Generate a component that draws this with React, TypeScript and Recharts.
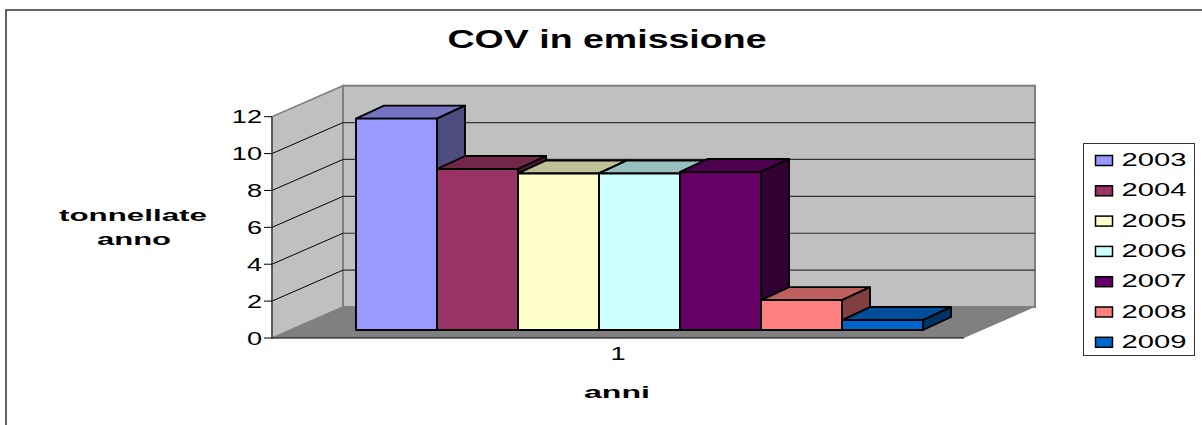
import React from 'react';
import { BarChart, Bar, XAxis, YAxis, CartesianGrid, Legend } from 'recharts';

const years = ['2003', '2004', '2005', '2006', '2007', '2008', '2009'];
const values = [11.46, 8.73, 8.49, 8.49, 8.57, 1.62, 0.54];
const colors = ['#9999FF', '#993366', '#FFFFCC', '#CCFFFF', '#660066', '#FF8080', '#0066CC'];
const topColors = ['#7373BF', '#732648', '#BFBF99', '#99BFBF', '#4D004D', '#BF6060', '#004D99'];
const sideColors = ['#4D4D80', '#4D1A33', '#808066', '#668080', '#330033', '#804040', '#003366'];
const yTicks = [0, 2, 4, 6, 8, 10, 12];
const categories = ['1'];

const chartData = categories.map((name) => {
  const row: Record<string, any> = { name };
  years.forEach((y, i) => {
    row[y] = values[i];
  });
  return row;
});

// plot area and the fake 3d depth
const LEFT = 272;
const RIGHT = 964;
const TOP = 116.7;
const BOTTOM = 338;
const DEPTH_X = 71;
const DEPTH_Y = 31;
const BAR_SHIFT_X = 23;
const BAR_SHIFT_Y = 8;
const BAR_DEPTH_X = 28;
const BAR_DEPTH_Y = 13;

const font = '"Liberation Sans", Arial, sans-serif';

function Bar3D(props: any) {
  const { x, y, width, height, index } = props;
  const i = props.colorIndex ?? index;
  const fx = x + BAR_SHIFT_X;
  const fy = y - BAR_SHIFT_Y;
  const line = { stroke: '#000', strokeWidth: 1.9, strokeLinejoin: 'round' as const };
  return (
    <g>
      <polygon
        points={`${fx},${fy} ${fx + BAR_DEPTH_X},${fy - BAR_DEPTH_Y} ${fx + width + BAR_DEPTH_X},${fy - BAR_DEPTH_Y} ${fx + width},${fy}`}
        fill={topColors[i]}
        {...line}
      />
      <polygon
        points={`${fx + width},${fy} ${fx + width + BAR_DEPTH_X},${fy - BAR_DEPTH_Y} ${fx + width + BAR_DEPTH_X},${fy + height - BAR_DEPTH_Y} ${fx + width},${fy + height}`}
        fill={sideColors[i]}
        {...line}
      />
      <rect x={fx} y={fy} width={width} height={height} fill={colors[i]} {...line} />
    </g>
  );
}

function Walls() {
  const bx = LEFT + DEPTH_X;
  const by = BOTTOM - DEPTH_Y;
  const ty = TOP - DEPTH_Y;
  return (
    <g>
      <polygon points={`${LEFT},${TOP} ${bx},${ty} ${bx},${by} ${LEFT},${BOTTOM}`} fill="#C0C0C0" stroke="#808080" strokeWidth={1.5} />
      <rect x={bx} y={ty} width={RIGHT - LEFT} height={by - ty} fill="#C0C0C0" stroke="#808080" strokeWidth={2} />
      <polygon points={`${LEFT},${BOTTOM} ${RIGHT},${BOTTOM} ${RIGHT + DEPTH_X},${by} ${bx},${by}`} fill="#808080" />
    </g>
  );
}

// the walls go in with the first grid line so the other lines stay on top of them
function GridLine(props: any) {
  const { x1, x2, y1, index } = props;
  const backY = y1 - DEPTH_Y;
  const isEdge = Math.abs(y1 - TOP) < 1 || Math.abs(y1 - BOTTOM) < 1;
  return (
    <g key={props.key}>
      {index === 0 && <Walls />}
      {!isEdge && (
        <>
          <line x1={x1} y1={y1} x2={x1 + DEPTH_X} y2={backY} stroke="#000" strokeWidth={1} />
          <line x1={x1 + DEPTH_X} y1={backY} x2={x2 + DEPTH_X} y2={backY} stroke="#333" strokeWidth={1.2} />
        </>
      )}
    </g>
  );
}

function YTick(props: any) {
  const { x, y, payload } = props;
  const s = String(payload.value);
  return (
    <text x={x} y={y + 6.5} textAnchor="end" fontFamily={font} fontSize={19} fill="#000" textLength={15.1 * s.length} lengthAdjust="spacingAndGlyphs">
      {s}
    </text>
  );
}

function XTick(props: any) {
  const { x, y, payload } = props;
  return (
    <text x={x} y={y + 8} textAnchor="middle" fontFamily={font} fontSize={19} fill="#000" textLength={15.1} lengthAdjust="spacingAndGlyphs">
      {payload.value}
    </text>
  );
}

function LegendBox() {
  return (
    <svg width={112} height={213} style={{ display: 'block' }}>
      <rect x={0.5} y={0.5} width={111} height={212} fill="#fff" stroke="#333" />
      {years.map((y, i) => {
        const cy = 16 + i * 30.3;
        return (
          <g key={y}>
            <rect x={12.5} y={cy - 3.5} width={17} height={10} fill={colors[i]} stroke="#000" strokeWidth={1.5} />
            <text x={38.5} y={cy + 7} fontFamily={font} fontSize={19} fill="#000" textLength={65} lengthAdjust="spacingAndGlyphs">
              {y}
            </text>
          </g>
        );
      })}
    </svg>
  );
}

export default function App() {
  return (
    <div style={{ position: 'absolute', left: 0, top: 0, width: 1202, height: 425, background: '#fff' }}>
      <BarChart
        width={1202}
        height={425}
        data={chartData}
        barCategoryGap={61}
        barGap={0}
        margin={{ top: TOP, right: 1202 - RIGHT, bottom: 425 - BOTTOM - 30, left: LEFT - 60 }}
      >
        <rect x={6} y={10} width={1300} height={500} fill="none" stroke="#333" strokeWidth={1.5} />
        <CartesianGrid horizontal={GridLine as any} vertical={false} />
        <XAxis
          dataKey="name"
          height={30}
          tick={<XTick />}
          tickLine={false}
          axisLine={{ stroke: '#000', strokeWidth: 1.2 }}
          tickMargin={8}
        />
        <YAxis
          width={60}
          domain={[0, 12]}
          ticks={yTicks}
          tick={<YTick />}
          tickSize={8}
          tickMargin={2}
          interval={0}
          tickLine={{ stroke: '#000' }}
          axisLine={{ stroke: '#333', strokeWidth: 1.2 }}
        />
        <Legend
          layout="vertical"
          align="center"
          verticalAlign="middle"
          content={<LegendBox />}
          wrapperStyle={{ position: 'absolute', left: 1083, top: 143, width: 112, height: 213, margin: 0 }}
        />
        {years.map((y, i) => (
          <Bar
            key={y}
            dataKey={y}
            isAnimationActive={false}
            fill={colors[i]}
            shape={(p: any) => <Bar3D {...p} colorIndex={i} />}
          />
        ))}
        <text x={607} y={47.7} textAnchor="middle" fontFamily={font} fontWeight="bold" fontSize={25} fill="#000" textLength={319} lengthAdjust="spacingAndGlyphs">
          COV in emissione
        </text>
        <text x={133} y={221} textAnchor="middle" fontFamily={font} fontWeight="bold" fontSize={17} fill="#000" textLength={148} lengthAdjust="spacingAndGlyphs">
          tonnellate
        </text>
        <text x={134} y={245} textAnchor="middle" fontFamily={font} fontWeight="bold" fontSize={17} fill="#000" textLength={74} lengthAdjust="spacingAndGlyphs">
          anno
        </text>
        <text x={617} y={398} textAnchor="middle" fontFamily={font} fontWeight="bold" fontSize={17} fill="#000" textLength={66} lengthAdjust="spacingAndGlyphs">
          anni
        </text>
      </BarChart>
    </div>
  );
}
